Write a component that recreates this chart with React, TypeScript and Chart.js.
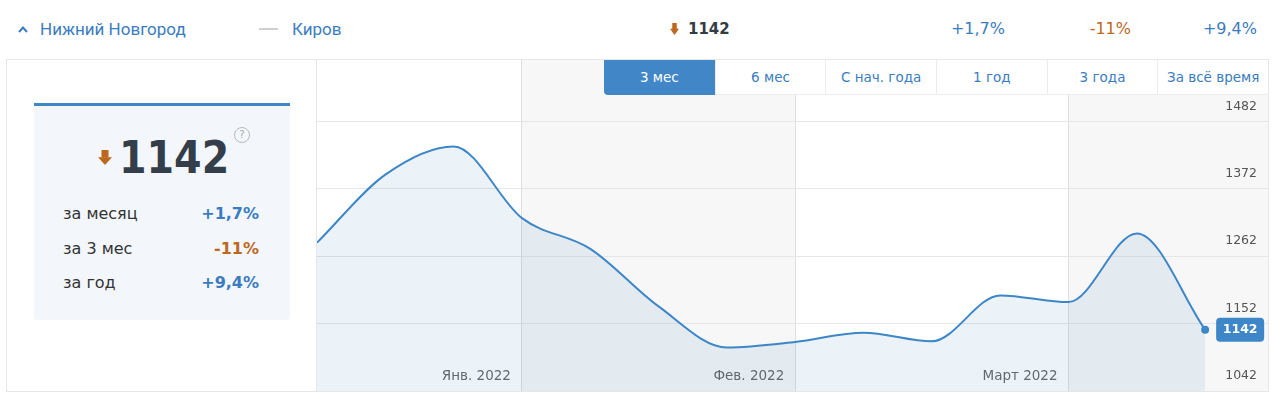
import React, { useEffect, useRef } from 'react';
import { Chart, registerables } from 'chart.js';

Chart.register(...registerables);

// ---- data ----
const weekIndex = [0, 1, 2, 3, 4, 5, 6, 7, 8, 9, 10, 11, 12, 13];
const priceValues = [1284, 1395, 1441, 1324, 1274, 1180, 1113, 1122, 1137, 1123, 1198, 1187, 1299, 1142];
const yTickValues = [1042, 1152, 1262, 1372, 1482];
const yRange = [1042, 1582];
const xRange = [0, 13.92];
const monthTickIndex = [3, 7, 11];
const monthLabels = ['Янв. 2022', 'Фев. 2022', 'Март 2022'];
const shadedRanges = [
  [3, 7],
  [11, 13.92],
];
const periodTabs = ['3 мес', '6 мес', 'С нач. года', '1 год', '3 года', 'За всё время'];
const summaryLabels = ['за месяц', 'за 3 мес', 'за год'];
const summaryValues = ['+1,7%', '-11%', '+9,4%'];
const summaryUp = [true, false, true];
const cityNames = ['Нижний Новгород', 'Киров'];

const BLUE = '#3d86c8';
const TEXT_BLUE = '#3b7cc0';
const ORANGE = '#bd681f';
const FONT = '"DejaVu Sans", Verdana, sans-serif';

type TxtProps = {
  x?: number;
  right?: number;
  y: number;
  size: number;
  color: string;
  bold?: boolean;
  family?: string;
  children: React.ReactNode;
};

function Txt({ x, right, y, size, color, bold, family, children }: TxtProps) {
  const style: React.CSSProperties = {
    position: 'absolute',
    top: y - 30,
    height: 60,
    lineHeight: '60px',
    fontSize: size,
    color,
    fontWeight: bold ? 'bold' : 'normal',
    fontFamily: family || FONT,
    whiteSpace: 'nowrap',
  };
  if (right !== undefined) style.right = 1280 - right;
  else style.left = x;
  return <div style={style}>{children}</div>;
}

function DownArrow({ x, y, w, h }: { x: number; y: number; w: number; h: number }) {
  const shaftW = w * 0.5;
  const shaftH = h * 0.48;
  return (
    <svg style={{ position: 'absolute', left: x, top: y }} width={w} height={h}>
      <rect x={(w - shaftW) / 2} y={0} width={shaftW} height={shaftH + 0.5} fill={ORANGE} />
      <polygon points={`0,${shaftH} ${w},${shaftH} ${w / 2},${h}`} fill={ORANGE} />
    </svg>
  );
}

export default function App() {
  const canvasRef = useRef<HTMLCanvasElement>(null);

  useEffect(() => {
    document.body.style.margin = '0';
    const canvas = canvasRef.current;
    if (!canvas) return;

    const stripePlugin = {
      id: 'stripes',
      beforeDraw(chart: any) {
        const { ctx, scales, height } = chart;
        const x = scales.x;
        ctx.save();
        ctx.fillStyle = '#f7f7f7';
        shadedRanges.forEach(([a, b]) => {
          const x0 = x.getPixelForValue(a);
          const x1 = x.getPixelForValue(b);
          ctx.fillRect(x0, 0, x1 - x0, height);
        });
        ctx.restore();
      },
    };

    const tagPlugin = {
      id: 'lastTag',
      afterDatasetsDraw(chart: any) {
        const meta = chart.getDatasetMeta(0);
        const pt = meta.data[meta.data.length - 1];
        const c = chart.ctx;
        const w = 48;
        const h = 24;
        const left = pt.x + 11;
        const top = pt.y - h / 2;
        c.save();
        c.fillStyle = BLUE;
        c.beginPath();
        c.roundRect(left, top, w, h, 4);
        c.fill();
        c.fillStyle = '#ffffff';
        c.font = 'bold 12.5px "DejaVu Sans"';
        c.textAlign = 'center';
        c.textBaseline = 'middle';
        c.fillText(String(priceValues[priceValues.length - 1]), left + w / 2, pt.y + 0.5);
        c.restore();
      },
    };

    const chart = new Chart(canvas, {
      type: 'line',
      data: {
        datasets: [
          {
            data: weekIndex.map((i) => ({ x: i, y: priceValues[i] })),
            borderColor: BLUE,
            borderWidth: 2,
            backgroundColor: 'rgba(61,134,200,0.1)',
            fill: 'start',
            cubicInterpolationMode: 'monotone',
            pointRadius: weekIndex.map((i) => (i === weekIndex.length - 1 ? 4 : 0)),
            pointBackgroundColor: BLUE,
            pointBorderWidth: 0,
            pointHoverRadius: 0,
          },
        ],
      },
      options: {
        animation: false,
        responsive: false,
        maintainAspectRatio: false,
        devicePixelRatio: 1,
        events: [],
        layout: { padding: 0, autoPadding: false },
        plugins: {
          legend: { display: false },
          tooltip: { enabled: false },
        },
        scales: {
          x: {
            type: 'linear',
            position: 'bottom',
            min: xRange[0],
            max: xRange[1],
            afterBuildTicks: (s: any) => {
              s.ticks = monthTickIndex.map((v) => ({ value: v }));
            },
            afterFit: (s: any) => {
              s.height = 0;
              s.paddingLeft = 0;
              s.paddingRight = 0;
            },
            grid: { color: '#dedede', drawTicks: false, lineWidth: 1 },
            border: { display: false },
            ticks: {
              autoSkip: false,
              mirror: true,
              maxRotation: 0,
              align: 'end',
              padding: 6,
              labelOffset: -11,
              color: '#666666',
              font: { family: 'DejaVu Sans', size: 13.5 },
              callback: (_v: any, idx: number) => monthLabels[idx],
            },
          },
          y: {
            type: 'linear',
            position: 'right',
            min: yRange[0],
            max: yRange[1],
            afterBuildTicks: (s: any) => {
              s.ticks = yTickValues.map((v) => ({ value: v }));
            },
            afterFit: (s: any) => {
              s.width = 0;
              s.paddingTop = 0;
              s.paddingBottom = 0;
            },
            grid: { color: '#e6e6e6', drawTicks: false, lineWidth: 1 },
            border: { display: false },
            ticks: {
              mirror: true,
              padding: -11,
              labelOffset: -15,
              color: '#555555',
              font: { family: 'DejaVu Sans', size: 12.5 },
              callback: (v: any) => String(v),
            },
          },
        },
      },
      plugins: [stripePlugin, tagPlugin],
    } as any);

    return () => chart.destroy();
  }, []);

  const tabW = (1268 - 604) / periodTabs.length;

  return (
    <div
      style={{
        position: 'fixed',
        left: 0,
        top: 0,
        width: 1280,
        height: 399,
        background: '#ffffff',
        fontFamily: FONT,
        overflow: 'hidden',
      }}
    >
      {/* top row */}
      <svg style={{ position: 'absolute', left: 16, top: 23 }} width={14} height={12}>
        <polyline points="3,9 7,4.5 11,9" fill="none" stroke={TEXT_BLUE} strokeWidth={2} />
      </svg>
      <Txt x={40} y={29} size={17} color={TEXT_BLUE} family="Roboto, sans-serif">
        {cityNames[0]}
      </Txt>
      <div style={{ position: 'absolute', left: 259, top: 28, width: 19, height: 2, background: '#cfcfcf' }} />
      <Txt x={292} y={29} size={17} color={TEXT_BLUE} family="Roboto, sans-serif">
        {cityNames[1]}
      </Txt>
      <DownArrow x={670} y={23} w={9} h={12} />
      <Txt x={688} y={29} size={15} color="#333b44" bold>
        {String(priceValues[priceValues.length - 1])}
      </Txt>
      <Txt right={1005} y={29} size={16} color={TEXT_BLUE}>
        {summaryValues[0]}
      </Txt>
      <Txt right={1131} y={29} size={16} color={ORANGE}>
        {summaryValues[1]}
      </Txt>
      <Txt right={1257} y={29} size={16} color={TEXT_BLUE}>
        {summaryValues[2]}
      </Txt>

      {/* main box */}
      <div
        style={{
          position: 'absolute',
          left: 6,
          top: 59,
          width: 1263,
          height: 333,
          border: '1px solid #e6e6e6',
          boxSizing: 'border-box',
        }}
      />
      <div style={{ position: 'absolute', left: 316, top: 60, width: 1, height: 331, background: '#e6e6e6' }} />

      {/* chart */}
      <canvas
        ref={canvasRef}
        width={951}
        height={331}
        style={{ position: 'absolute', left: 317, top: 60, width: 951, height: 331 }}
      />

      {/* tabs */}
      {periodTabs.map((t, i) => {
        const active = i === 0;
        return (
          <div
            key={t}
            style={{
              position: 'absolute',
              left: 604 + i * tabW,
              top: 60,
              width: tabW,
              height: 35,
              boxSizing: 'border-box',
              background: active ? '#4186c6' : '#ffffff',
              borderLeft: i > 0 ? '1px solid #ececec' : 'none',
              borderBottom: active ? 'none' : '1px solid #ececec',
              borderBottomLeftRadius: active ? 4 : 0,
              color: active ? '#ffffff' : TEXT_BLUE,
              fontSize: 13.5,
              lineHeight: '35px',
              textAlign: 'center',
              whiteSpace: 'nowrap',
            }}
          >
            {t}
          </div>
        );
      })}

      {/* left card */}
      <div
        style={{
          position: 'absolute',
          left: 34,
          top: 103,
          width: 256,
          height: 217,
          background: '#f3f7fc',
          borderTop: '3px solid ' + BLUE,
          boxSizing: 'border-box',
          borderRadius: '0 0 3px 3px',
        }}
      />
      <DownArrow x={98} y={150} w={14} h={15} />
      <Txt x={119} y={158} size={44} color="#343e4a" bold family='"DejaVu Sans Condensed", "DejaVu Sans", sans-serif'>
        {String(priceValues[priceValues.length - 1])}
      </Txt>
      <div
        style={{
          position: 'absolute',
          left: 234,
          top: 127,
          width: 16,
          height: 16,
          borderRadius: '50%',
          border: '1px solid #b8b8b8',
          boxSizing: 'border-box',
          color: '#a8a8a8',
          fontSize: 10,
          lineHeight: '14px',
          textAlign: 'center',
        }}
      >
        ?
      </div>
      {summaryLabels.map((l, i) => (
        <React.Fragment key={l}>
          <Txt x={63} y={214 + i * 34.5} size={16} color="#333333">
            {l}
          </Txt>
          <Txt right={259} y={214 + i * 34.5} size={16} color={summaryUp[i] ? TEXT_BLUE : ORANGE} bold>
            {summaryValues[i]}
          </Txt>
        </React.Fragment>
      ))}
    </div>
  );
}
